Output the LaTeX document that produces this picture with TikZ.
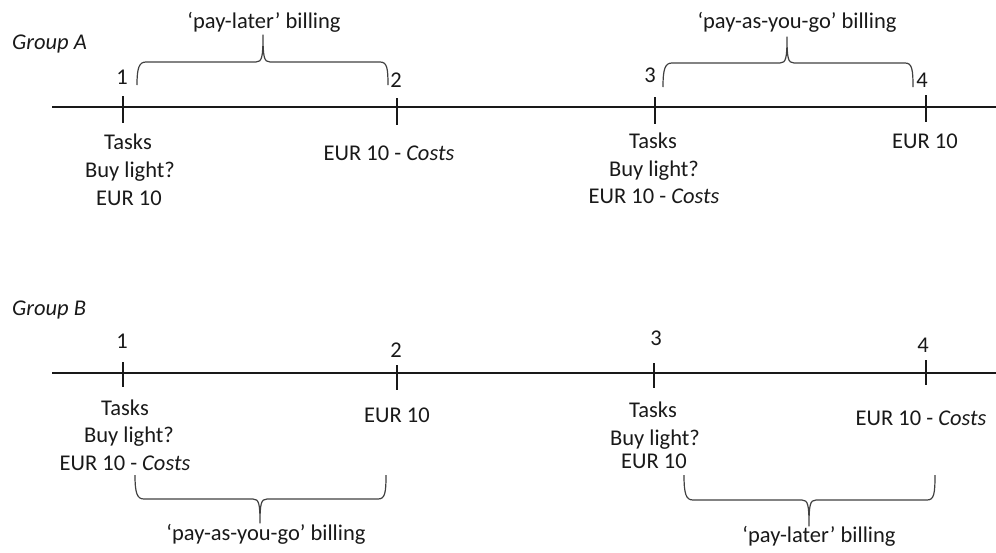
\documentclass[tikz,border=0pt]{standalone}
\usepackage{fontspec}
\setmainfont{Carlito}
\begin{document}
\begin{tikzpicture}[x=1pt,y=-1pt,
  lbl/.style={anchor=base,inner sep=0pt,font=\fontsize{22.5}{28}\selectfont,text=black!90},
  grp/.style={lbl,anchor=base west,font=\fontsize{22.5}{28}\selectfont\itshape},
  axis/.style={line width=2.8pt,black!90},
  tick/.style={line width=2.6pt,black!90},
  brc/.style={line width=1.2pt,black!75,line join=round}]
\useasboundingbox (0,0) rectangle (996,552);

% ---------------- Group A ----------------
\node[grp] (gA) at (12,49) {Group A};
\coordinate (aS) at (52,107);
\coordinate (aE) at (996,107);
\draw[axis] (aS) -- (aE);
\coordinate (a1t) at (123,96); \coordinate (a1b) at (123,123);
\coordinate (a2t) at (397,98); \coordinate (a2b) at (397,125);
\coordinate (a3t) at (655,97); \coordinate (a3b) at (655,124);
\coordinate (a4t) at (926,95); \coordinate (a4b) at (926,122);
\draw[tick] (a1t) -- (a1b);
\draw[tick] (a2t) -- (a2b);
\draw[tick] (a3t) -- (a3b);
\draw[tick] (a4t) -- (a4b);
\node[lbl] (an1) at (122,84) {1};
\node[lbl] (an2) at (396,87) {2};
\node[lbl] (an3) at (650,82) {3};
\node[lbl] (an4) at (922,87) {4};

\node[lbl] (a1l1) at (128,149) {Tasks};
\node[lbl] (a1l2) at (130,177) {Buy light?};
\node[lbl] (a1l3) at (129,205) {EUR 10};
\node[lbl] (a2l1) at (389,160) {EUR 10 - \textit{Costs}};
\node[lbl] (a3l1) at (653,148) {Tasks};
\node[lbl] (a3l2) at (654,176) {Buy light?};
\node[lbl] (a3l3) at (654,203) {EUR 10 - \textit{Costs}};
\node[lbl] (a4l1) at (925,148) {EUR 10};

\draw[brc] (137,85) .. controls (137,68) and (139,62) .. (146,62) -- (256,62)
  .. controls (262,62) and (263,57) .. (263,35)
  .. controls (263,57) and (264,62) .. (270,62) -- (380,62)
  .. controls (387,62) and (388,68) .. (388,85);
\node[lbl] (abr1) at (264,28) {‘pay-later’ billing};

\draw[brc] (663,87) .. controls (663,69) and (665,63) .. (672,63) -- (780,63)
  .. controls (786,63) and (787,58) .. (787,37)
  .. controls (787,58) and (788,63) .. (794,63) -- (905,63)
  .. controls (912,63) and (913,69) .. (913,87);
\node[lbl] (abr2) at (797,28) {‘pay-as-you-go’ billing};

% ---------------- Group B ----------------
\node[grp] (gB) at (12,315) {Group B};
\coordinate (bS) at (52,373);
\coordinate (bE) at (996,373);
\draw[axis] (bS) -- (bE);
\coordinate (b1t) at (123,362); \coordinate (b1b) at (123,387);
\coordinate (b2t) at (397,365); \coordinate (b2b) at (397,390);
\coordinate (b3t) at (654,363); \coordinate (b3b) at (654,388);
\coordinate (b4t) at (926,360); \coordinate (b4b) at (926,385);
\draw[tick] (b1t) -- (b1b);
\draw[tick] (b2t) -- (b2b);
\draw[tick] (b3t) -- (b3b);
\draw[tick] (b4t) -- (b4b);
\node[lbl] (bn1) at (122,348) {1};
\node[lbl] (bn2) at (396,357) {2};
\node[lbl] (bn3) at (656,345) {3};
\node[lbl] (bn4) at (923,352) {4};

\node[lbl] (b1l1) at (125,415) {Tasks};
\node[lbl] (b1l2) at (129,442) {Buy light?};
\node[lbl] (b1l3) at (125,470) {EUR 10 - \textit{Costs}};
\node[lbl] (b2l1) at (397,422) {EUR 10};
\node[lbl] (b3l1) at (653,417) {Tasks};
\node[lbl] (b3l2) at (655,445) {Buy light?};
\node[lbl] (b3l3) at (654,468) {EUR 10};
\node[lbl] (b4l1) at (921,425) {EUR 10 - \textit{Costs}};

\draw[brc] (135,475) .. controls (135,493) and (137,499) .. (144,499) -- (253,499)
  .. controls (259,499) and (260,504) .. (260,523)
  .. controls (260,504) and (261,499) .. (267,499) -- (378,499)
  .. controls (385,499) and (386,493) .. (386,475);
\node[lbl] (bbr1) at (266,540) {‘pay-as-you-go’ billing};

\draw[brc] (684,475) .. controls (684,494) and (686,500) .. (693,500) -- (802,500)
  .. controls (808,500) and (809,505) .. (809,526)
  .. controls (809,505) and (810,500) .. (816,500) -- (927,500)
  .. controls (934,500) and (935,494) .. (935,475);
\node[lbl] (bbr2) at (819,542) {‘pay-later’ billing};
\end{tikzpicture}
\end{document}
